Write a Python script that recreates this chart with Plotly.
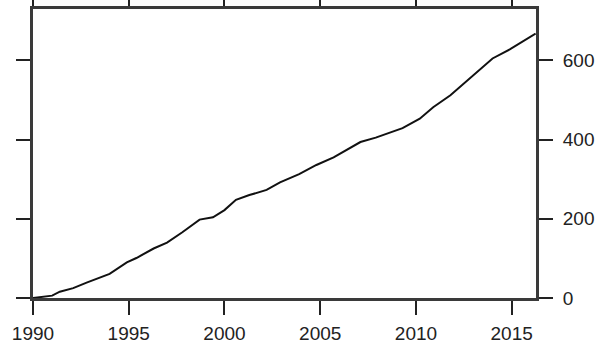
import plotly.graph_objects as go

# Cumulative series, read at irregular time points (decimal years)
years = [1990.0, 1990.5, 1991.0, 1991.4, 1992.1, 1992.8, 1993.5, 1994.0, 1994.9,
         1995.4, 1996.3, 1997.0, 1997.8, 1998.7, 1999.4, 2000.0, 2000.6, 2001.3,
         2002.2, 2002.9, 2003.9, 2004.8, 2005.7, 2006.4, 2007.1, 2007.9, 2008.5,
         2009.3, 2010.2, 2010.9, 2011.8, 2012.8, 2014.0, 2014.9, 2016.0, 2016.25]
values = [0, 3, 6, 16, 25, 39, 51, 61, 90,
          101, 125, 140, 166, 198, 204, 222, 248, 260,
          273, 292, 313, 336, 355, 375, 394, 405, 415,
          429, 453, 482, 512, 554, 605, 628, 661, 668]

x_ticks = [1990, 1995, 2000, 2005, 2010, 2015]
y_ticks = [0, 200, 400, 600]

fig = go.Figure()
fig.add_trace(go.Scatter(x=years, y=values, mode="lines",
                         line=dict(color="#111111", width=2), showlegend=False))

axis_font = dict(family="Liberation Sans, Arial, sans-serif", size=19, color="#222222")

fig.update_xaxes(range=[1990, 2016.27], tickvals=x_ticks, ticktext=[str(t) for t in x_ticks],
                 showgrid=False, zeroline=False, showline=True, linewidth=3,
                 linecolor="#3a3a3a", mirror="allticks", ticks="outside",
                 ticklen=14, tickwidth=1.5, tickcolor="#222222", tickfont=axis_font,
                 automargin=False, ticklabelstandoff=2)
fig.update_yaxes(range=[0, 730], tickvals=y_ticks, ticktext=[str(t) for t in y_ticks],
                 side="right", showgrid=False, zeroline=False, showline=True,
                 linewidth=3, linecolor="#3a3a3a", mirror="allticks", ticks="outside",
                 ticklen=14, tickwidth=1.5, tickcolor="#222222", tickfont=axis_font,
                 ticklabelstandoff=6, automargin=False)

fig.update_layout(width=607, height=347, margin=dict(l=33, r=71, t=9, b=49),
                  paper_bgcolor="white", plot_bgcolor="white")

fig.write_html("out.html")
